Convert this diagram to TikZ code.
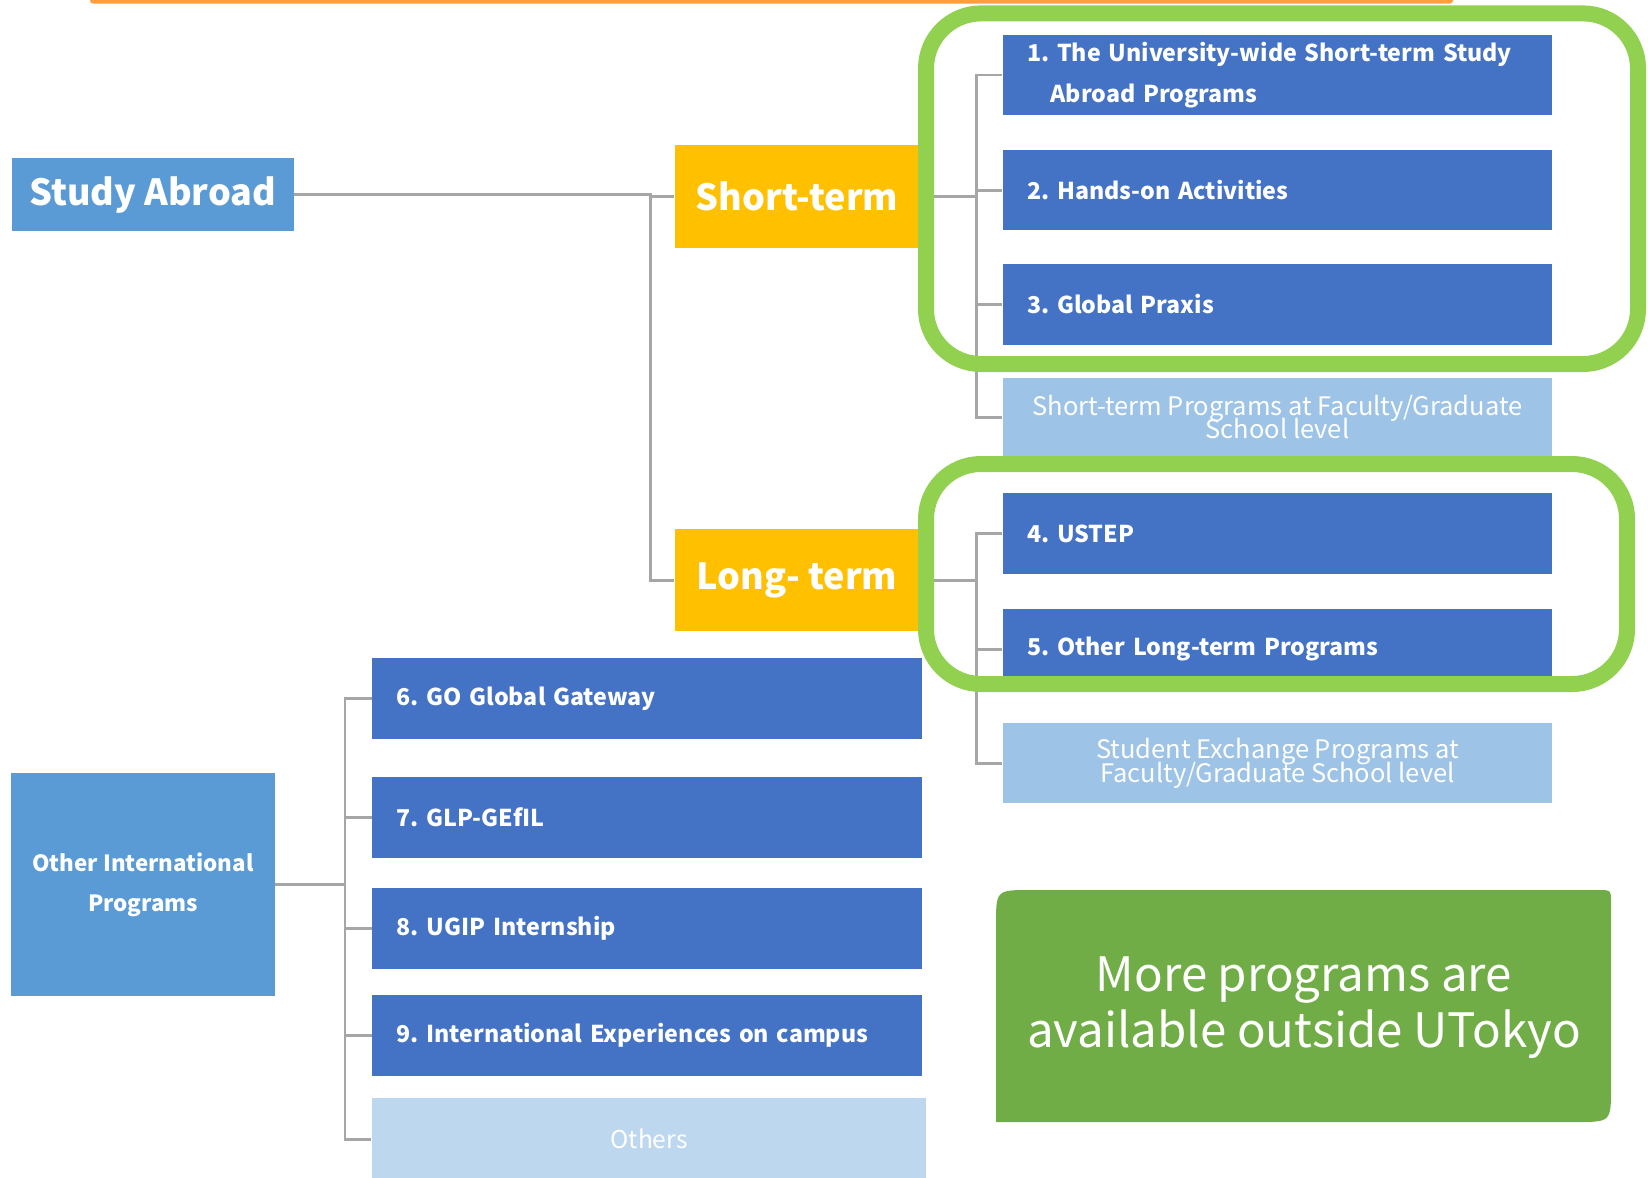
\documentclass[tikz,border=0pt]{standalone}
\usepackage{fontspec}
\setmainfont{Noto Sans CJK JP}
\usepackage{tikz}
\usetikzlibrary{positioning}
\definecolor{darkblue}{RGB}{68,114,196}
\definecolor{midblue}{RGB}{91,155,213}
\definecolor{paleblue}{RGB}{157,195,230}
\definecolor{lightblue}{RGB}{189,215,238}
\definecolor{gold}{RGB}{255,192,0}
\definecolor{lime}{RGB}{146,208,80}
\definecolor{leaf}{RGB}{112,173,71}
\definecolor{tangerine}{RGB}{255,158,61}
\definecolor{linegrey}{RGB}{166,166,166}
\newcommand{\tightlines}{\setlength{\lineskiplimit}{-20pt}}
\tikzset{every picture/.append style={x=0.02cm,y=-0.02cm}}
\tikzset{headbox/.style={fill=#1,text=white,inner sep=0pt,font=\fontsize{20.5}{25}\selectfont\bfseries}}
\tikzset{progbox/.style={fill=darkblue,text=white,minimum width=11cm,minimum height=1.62cm,text width=10.02cm,inner xsep=0.49cm,inner ysep=0pt,align=left,font=\fontsize{13.2}{23.5}\selectfont\bfseries}}
\tikzset{facbox/.style={fill=paleblue,text=white,minimum width=11cm,minimum height=1.58cm,inner sep=0pt,align=center,font=\fontsize{14.5}{13.6}\selectfont\tightlines}}
\tikzset{conn/.style={draw=linegrey,line width=1.7pt}}
\tikzset{frame/.style={draw=lime,line width=0.32cm,rounded corners=1.1cm}}

\begin{document}
\frenchspacing
\begin{tikzpicture}
\useasboundingbox (0,0) rectangle (1648,1177);
\fill[tangerine,rounded corners=0.06cm] (90,-20) rectangle (1453,3.5);

\node (study) at (152.7,194.7)[headbox=midblue,minimum width=5.64cm,minimum height=1.46cm]{Study Abroad};
\node (short) at (797,196.5)[headbox=gold,minimum width=4.9cm,minimum height=2.06cm]{Short-term};
\node (long) at (797,580)[headbox=gold,minimum width=4.9cm,minimum height=2.04cm]{Long- term};
\node (oip) at (143,884.7)[headbox=midblue,minimum width=5.28cm,minimum height=4.45cm,align=center,font=\fontsize{12.7}{22.7}\selectfont\bfseries]{Other International\\Programs};

\node (p1) at (1277.5,75)[progbox,minimum height=1.62cm]{1. The University-wide Short-term Study\\\hspace{0.47cm}Abroad Programs};
\node (p2) at (1277.5,190)[progbox]{2. Hands-on Activities};
\node (p3) at (1277.5,304.5)[progbox]{3. Global Praxis};
\node (facS) at (1277.5,417)[facbox]{Short-term Programs at Faculty/Graduate\\School level};
\node (p4) at (1277.5,533.5)[progbox]{4. USTEP};
\node (p5) at (1277.5,649)[progbox]{5. Other Long-term Programs};
\node (facL) at (1277.5,763)[facbox,minimum height=1.6cm]{Student Exchange Programs at\\Faculty/Graduate School level};

\node (p6) at (647,698.5)[progbox]{6. GO Global Gateway};
\node (p7) at (647,817)[progbox]{7. GLP-GEfIL};
\node (p8) at (647,928.5)[progbox]{8. UGIP Internship};
\node (p9) at (647,1035.5)[progbox]{9. International Experiences on campus};
\node (others) at (649,1139)[fill=lightblue,text=white,minimum width=11.1cm,minimum height=1.64cm,font=\fontsize{14}{17}\selectfont]{Others};

\coordinate (sa) at (650,194.7);
\coordinate (st) at (976.6,196.5);
\coordinate (lt) at (976.6,580);
\coordinate (ot) at (345,884.7);
\draw[conn] (study) -- (sa) |- (short);
\draw[conn] (sa) |- (long);
\draw[conn] (short) -- (st);
\foreach \b in {p1,p2,p3,facS} \draw[conn] (st) |- (\b);
\draw[conn] (long) -- (lt);
\foreach \b in {p4,p5,facL} \draw[conn] (lt) |- (\b);
\draw[conn] (oip) -- (ot);
\foreach \b in {p6,p7,p8,p9,others} \draw[conn] (ot) |- (\b);

\draw[frame] (926,13.4) rectangle (1638,364);
\draw[frame] (926,464) rectangle (1627,684);

% callout
\fill[leaf] (996,1122) -- (996,925) .. controls (996,890) .. (1031,890) -- (1598,890) .. controls (1611,890) .. (1611,903) -- (1611,1087) .. controls (1611,1122) .. (1576,1122) -- cycle;
\node (more) at (1304,1008)[text=white,align=center,font=\fontsize{27}{32}\selectfont]{More programs are\\available outside UTokyo};
\end{tikzpicture}
\end{document}
